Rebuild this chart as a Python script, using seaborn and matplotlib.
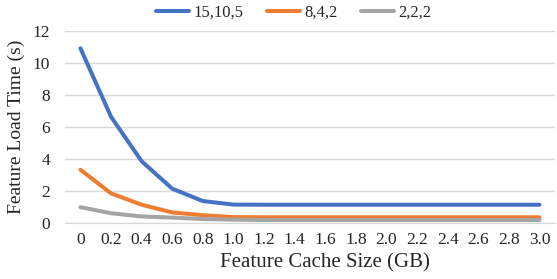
import pandas as pd
import matplotlib
matplotlib.use("Agg")
import matplotlib.pyplot as plt
import seaborn as sns

cache_sizes = ["0", "0.2", "0.4", "0.6", "0.8", "1.0", "1.2", "1.4", "1.6",
               "1.8", "2.0", "2.2", "2.4", "2.6", "2.8", "3.0"]
load_15_10_5 = [10.9, 6.63, 3.86, 2.15, 1.38, 1.16, 1.15, 1.15, 1.15,
                1.15, 1.15, 1.15, 1.15, 1.15, 1.15, 1.15]
load_8_4_2 = [3.33, 1.86, 1.15, 0.67, 0.5, 0.38, 0.37, 0.37, 0.37,
              0.37, 0.37, 0.37, 0.37, 0.37, 0.37, 0.37]
load_2_2_2 = [1.0, 0.62, 0.42, 0.35, 0.26, 0.22, 0.2, 0.2, 0.2,
              0.2, 0.2, 0.2, 0.2, 0.2, 0.2, 0.2]
series_names = ["15,10,5", "8,4,2", "2,2,2"]
colors = ["#4472C4", "#ED7D31", "#A5A5A5"]

rows = []
for name, vals in zip(series_names, [load_15_10_5, load_8_4_2, load_2_2_2]):
    for x, v in zip(cache_sizes, vals):
        rows.append({"size": x, "time": v, "config": name})
df = pd.DataFrame(rows)

sns.set_style("white")
plt.rcParams['font.family'] = ['Liberation Serif', 'DejaVu Serif']

fig = plt.figure(figsize=(5.57, 2.79), dpi=100)
ax = fig.add_axes([0.117, 0.2, 0.879, 0.69])
sns.lineplot(data=df, x="size", y="time", hue="config", palette=colors,
             hue_order=series_names, linewidth=2.9, ax=ax, sort=False)

ax.set_xlim(-0.5, len(cache_sizes) - 0.5)
ax.set_ylim(0, 12)
ax.set_yticks(range(0, 13, 2))
ax.yaxis.grid(True, color="#D9D9D9", linewidth=1)
ax.set_axisbelow(True)
for s in ["top", "right", "left"]:
    ax.spines[s].set_visible(False)
ax.spines["bottom"].set_color("#D9D9D9")
ax.tick_params(axis="x", length=0, labelsize=12.5, pad=6)
ax.tick_params(axis="y", length=0, labelsize=12.5, pad=11)
ax.set_xlabel("Feature Cache Size (GB)", fontsize=15)
ax.xaxis.set_label_coords(0.53, -0.155)
ax.set_ylabel("Feature Load Time (s)", fontsize=14, labelpad=5)

ax.legend(loc="lower center", bbox_to_anchor=(0.467, 1.015), ncol=3, frameon=False,
          fontsize=12, handlelength=2.0, columnspacing=1.4, handletextpad=0.25,
          borderaxespad=0)

fig.savefig("out.png", dpi=100)
